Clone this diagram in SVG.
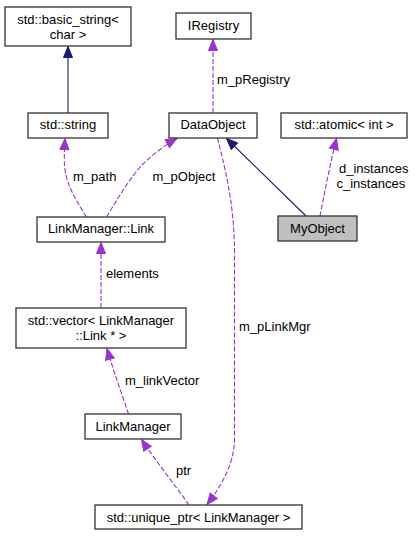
<svg xmlns="http://www.w3.org/2000/svg" width="415" height="536" viewBox="0 0 415 536">
<defs>
<marker id="ap" markerUnits="userSpaceOnUse" markerWidth="14" markerHeight="12" refX="12" refY="5.5" orient="auto">
<path d="M1,1 L12,5.5 L1,10 z" fill="#9a32cd" stroke="#9a32cd" stroke-width="1"/>
</marker>
<marker id="an" markerUnits="userSpaceOnUse" markerWidth="14" markerHeight="12" refX="12" refY="5.5" orient="auto">
<path d="M1,1 L12,5.5 L1,10 z" fill="#191970" stroke="#191970" stroke-width="1"/>
</marker>
</defs>
<style>
.box{fill:#fff;stroke:#333;stroke-width:1.3}
.cur{fill:#bfbfbf;stroke:#333;stroke-width:1.3}
text{font-family:"Liberation Sans",Arial,sans-serif;font-size:13px;fill:#000}
.c{text-anchor:middle}
.d{fill:none;stroke:#9a32cd;stroke-width:1.1;stroke-dasharray:5,2;marker-end:url(#ap)}
.s{fill:none;stroke:#191970;stroke-width:1.1;marker-end:url(#an)}
</style>
<g id="connectors">
<path class="s" d="M68,113 L68,46.5"/>
<path class="s" d="M306,216 L226.5,138.5"/>
<path class="d" d="M213,113 L213,39.5"/>
<text x="217" y="84">m_pRegistry</text>
<path class="d" d="M320,216 C324,195 330,165 336.5,138.5"/>
<text x="339" y="173">d_instances</text>
<text x="336.5" y="187.5">c_instances</text>
<path class="d" d="M86.5,217 C76,200 66,185 64.5,165 C64,158 64.5,148 65,138.5"/>
<text x="73" y="181">m_path</text>
<path class="d" d="M106.5,217 C118,198 130,178 142,165 C152,155 165,145 177,138.5"/>
<text x="152.5" y="181">m_pObject</text>
<path class="d" d="M101,308 L101,242.5"/>
<text x="106" y="278">elements</text>
<path class="d" d="M128.5,414 C122,394 113,370 107,348.5"/>
<text x="125" y="385">m_linkVector</text>
<path class="d" d="M189,505 C175,485 155,460 141.5,439.5"/>
<text x="176" y="474.5">ptr</text>
<path class="d" d="M217.5,138 C224,165 234,200 234.5,250 L234.5,440 C234,465 220,488 207,504.5"/>
<text x="239" y="331">m_pLinkMgr</text>
</g>
<g id="node-basic_string">
<rect class="box" x="5" y="7" width="126" height="39"/>
<text class="c" x="68" y="23.5">std::basic_string&lt;</text>
<text class="c" x="68" y="38.5">char &gt;</text>
</g>
<g id="node-IRegistry">
<rect class="box" x="176" y="13" width="75" height="26"/>
<text class="c" x="213.5" y="30">IRegistry</text>
</g>
<g id="node-string">
<rect class="box" x="28" y="113" width="80" height="25"/>
<text class="c" x="68" y="129">std::string</text>
</g>
<g id="node-DataObject">
<rect class="box" x="169" y="113" width="88" height="25"/>
<text class="c" x="213" y="129">DataObject</text>
</g>
<g id="node-atomic">
<rect class="box" x="281" y="113" width="126" height="25"/>
<text class="c" x="344" y="129">std::atomic&lt; int &gt;</text>
</g>
<g id="node-Link">
<rect class="box" x="37" y="217" width="128" height="25"/>
<text class="c" x="101" y="233">LinkManager::Link</text>
</g>
<g id="node-MyObject">
<rect class="cur" x="278" y="216" width="79" height="25"/>
<text class="c" x="317.5" y="232.5">MyObject</text>
</g>
<g id="node-vector">
<rect class="box" x="16" y="308" width="170" height="40"/>
<text class="c" x="101" y="324.5">std::vector&lt; LinkManager</text>
<text class="c" x="101" y="339.5">::Link * &gt;</text>
</g>
<g id="node-LinkManager">
<rect class="box" x="85" y="414" width="96" height="25"/>
<text class="c" x="133" y="431">LinkManager</text>
</g>
<g id="node-unique_ptr">
<rect class="box" x="95" y="505" width="207" height="24"/>
<text class="c" x="198.5" y="521.5">std::unique_ptr&lt; LinkManager &gt;</text>
</g>
</svg>
